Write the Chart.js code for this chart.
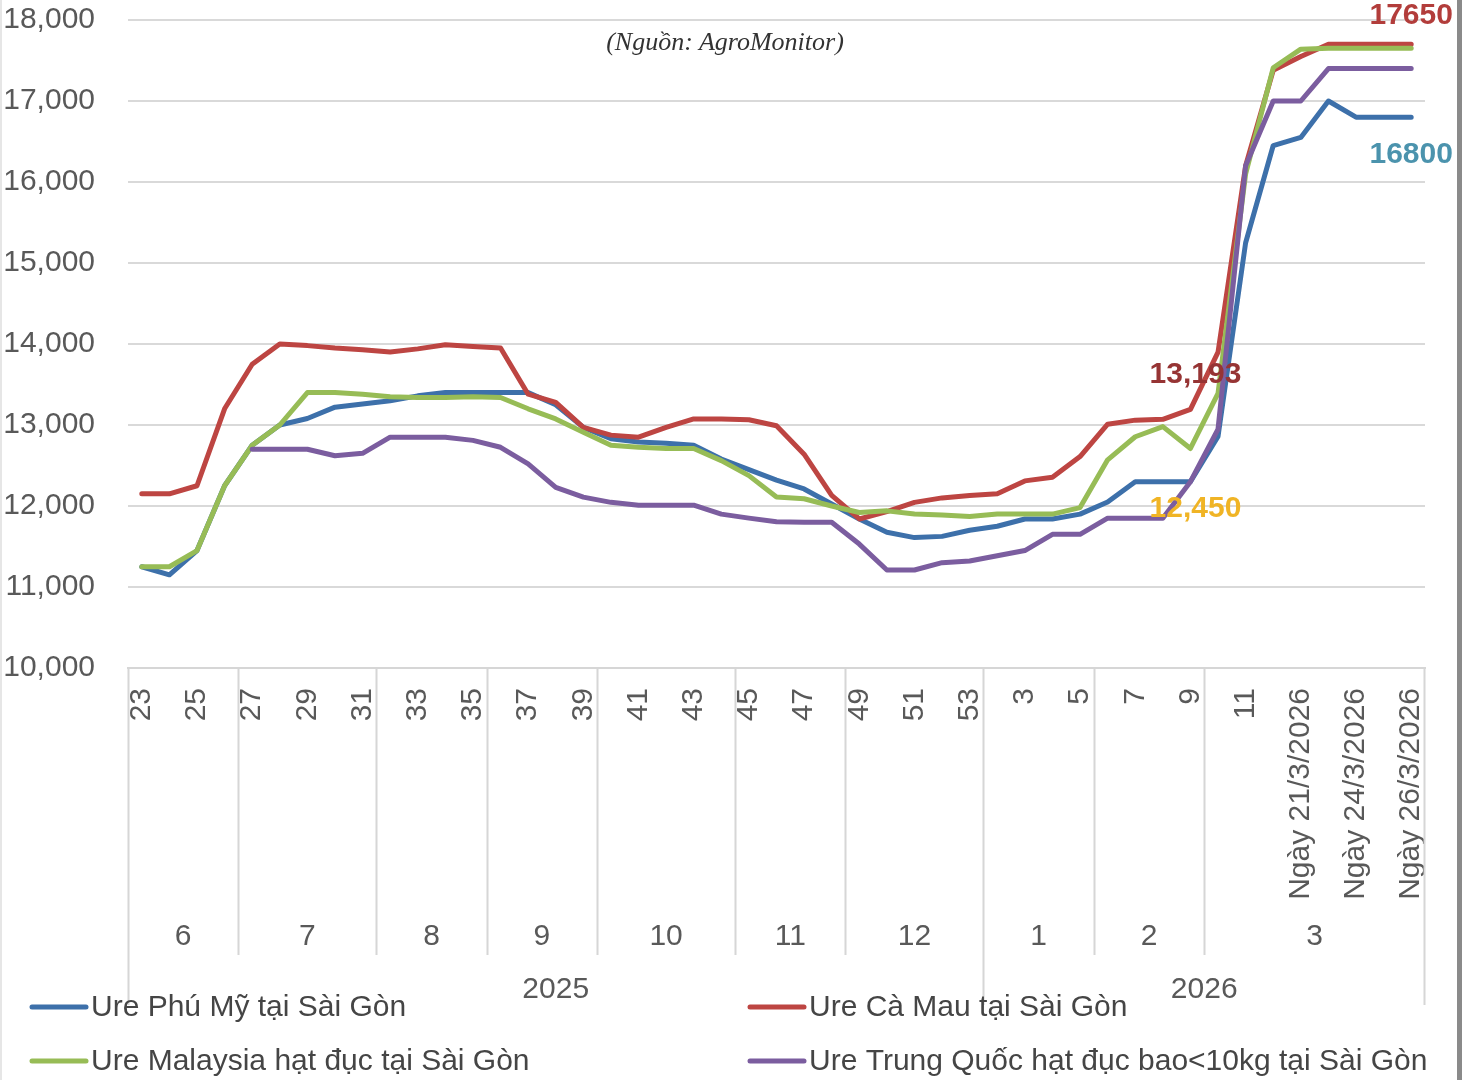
<!DOCTYPE html>
<html>
<head>
<meta charset="utf-8">
<script src="https://cdn.jsdelivr.net/npm/chart.js@4.4.1/dist/chart.umd.min.js"></script>
<style>
html,body{margin:0;padding:0;background:#fff;}
#wrap{position:relative;width:1471px;height:1080px;overflow:hidden;background:#fff;}
#c{position:absolute;left:0;top:0;}
#sub{position:absolute;top:27px;left:0;width:1450px;text-align:center;font:italic 26px "Liberation Serif","DejaVu Serif",serif;line-height:30px;color:#333;}
#edge{position:absolute;left:1457px;top:0;width:5px;height:1080px;background:#8a8a8a;}
#ledge{position:absolute;left:0;top:0;width:2px;height:1080px;background:#e6e6e6;}
</style>
</head>
<body>
<div id="wrap">
  <canvas id="c" width="1471" height="1080"></canvas>
  <div id="sub">(Nguồn: AgroMonitor)</div>
  <div id="edge"></div>
  <div id="ledge"></div>
</div>
<script>
// ---- categories (weeks / dates) ----
const categories = ['23','24','25','26','27','28','29','30','31','32','33','34','35','36','37','38','39','40','41','42','43','44','45','46','47','48','49','50','51','52','53',
  '2','3','4','5','6','7','8','9','10','11',
  'Ngày 20/3/2026','Ngày 21/3/2026','Ngày 23/3/2026','Ngày 24/3/2026','Ngày 25/3/2026','Ngày 26/3/2026'];
const monthLabels = ['6','7','8','9','10','11','12','1','2','3'];
const monthSizes  = [4,5,4,4,5,4,5,4,4,8];
const yearLabels  = ['2025','2026'];
const yearSizes   = [31,16];

// ---- series (đ/kg) ----
const phuMy = [11250,11150,11450,12250,12750,13000,13080,13220,13260,13300,
  13360,13400,13400,13400,13400,13250,12970,12830,12790,12775,
  12750,12580,12450,12320,12210,12025,11840,11675,11610,11625,
  11700,11750,11840,11840,11900,12050,12300,12300,12300,12860,
  15250,16450,16550,17000,16800,16800,16800];
const caMau = [12150,12150,12250,13200,13750,14000,13980,13950,13930,13900,
  13940,13990,13970,13950,13380,13280,12970,12875,12850,12970,
  13075,13075,13065,12990,12640,12130,11840,11930,12045,12100,
  12130,12150,12310,12355,12610,13010,13060,13070,13193,13900,
  16200,17380,17550,17700,17700,17700,17700];
const malaysia = [11250,11250,11450,12250,12750,13000,13400,13400,13380,13350,
  13340,13340,13350,13340,13200,13075,12910,12750,12725,12710,
  12710,12560,12375,12110,12090,12000,11920,11940,11900,11890,
  11870,11900,11900,11900,11980,12570,12855,12980,12710,13390,
  16100,17410,17640,17650,17650,17650,17650];
const trungQuoc = [null,null,null,null,12700,12700,12700,12620,12650,12850,
  12850,12850,12810,12725,12520,12230,12110,12045,12010,12010,
  12010,11900,11850,11805,11800,11800,11530,11210,11210,11300,
  11320,11385,11450,11650,11650,11850,11850,11850,12300,12950,
  16200,17000,17000,17400,17400,17400,17400];

const seriesNames = ['Ure Phú Mỹ tại Sài Gòn','Ure Cà Mau tại Sài Gòn','Ure Malaysia hạt đục tại Sài Gòn','Ure Trung Quốc hạt đục bao<10kg tại Sài Gòn'];
const seriesColors = ['#3d70aa','#bd4542','#97bc56','#7b5d9f'];

// value callouts: [datasetIndex, pointIndex, text]
const callouts = [[1,46,'17650'],[0,46,'16800'],[1,38,'13,193'],[3,38,'12,450']];
const calloutStyle = [{color:'#b23d3b',dx:0,dy:-29},{color:'#4b93ad',dx:0,dy:38},{color:'#963434',dx:5,dy:-35},{color:'#f0b425',dx:5,dy:27}];

const FONT = '"Liberation Sans", Arial, Helvetica, sans-serif';
const TXT = '#595959';

const fmt = v => String(v).replace(/\B(?=(\d{3})+(?!\d))/g, ',');

const groupPlugin = {
  id: 'groups',
  afterDraw(chart) {
    const ctx = chart.ctx, xs = chart.scales.x, area = chart.chartArea;
    const p = i => xs.getPixelForValue(i);
    const half = (p(1) - p(0)) / 2;
    const edge = i => p(i) - half;
    const b = area.bottom;
    ctx.save();
    ctx.strokeStyle = '#d6d6d6';
    ctx.lineWidth = 2;
    let idx = 0;
    ctx.font = '30px ' + FONT;
    ctx.fillStyle = TXT;
    ctx.textAlign = 'center';
    ctx.textBaseline = 'middle';
    const yearStarts = [0];
    let yi = 0; yearSizes.forEach(s => { yi += s; yearStarts.push(yi); });
    // month separators and labels
    monthSizes.forEach((s, k) => {
      const x0 = edge(idx), x1 = edge(idx + s);
      if (!yearStarts.includes(idx)) {
        ctx.beginPath(); ctx.moveTo(Math.round(x0) + 0.5, b); ctx.lineTo(Math.round(x0) + 0.5, b + 287); ctx.stroke();
      }
      ctx.fillText(monthLabels[k], (x0 + x1) / 2, b + 269);
      idx += s;
    });
    // year separators and labels
    idx = 0;
    yearSizes.forEach((s, k) => {
      const x0 = edge(idx), x1 = edge(idx + s);
      ctx.beginPath(); ctx.moveTo(Math.round(x0) + 0.5, b); ctx.lineTo(Math.round(x0) + 0.5, b + 337); ctx.stroke();
      ctx.fillText(yearLabels[k], (x0 + x1) / 2, b + 322);
      idx += s;
    });
    const xEnd = edge(categories.length);
    ctx.beginPath(); ctx.moveTo(Math.round(xEnd) - 0.5, b); ctx.lineTo(Math.round(xEnd) - 0.5, b + 337); ctx.stroke();

    // legend (2 columns x 2 rows)
    const colX = [30, 748];
    const rowY = [b + 339, b + 393];
    ctx.textAlign = 'left';
    ctx.font = '30px ' + FONT;
    seriesNames.forEach((name, k) => {
      const cx = colX[k % 2], cy = rowY[Math.floor(k / 2)];
      ctx.strokeStyle = seriesColors[k];
      ctx.lineWidth = 5;
      ctx.lineCap = 'round';
      ctx.beginPath(); ctx.moveTo(cx + 2, cy); ctx.lineTo(cx + 56, cy); ctx.stroke();
      ctx.fillStyle = '#454545';
      ctx.fillText(name, cx + 61, cy + 1);
    });

    // callouts
    ctx.font = 'bold 30px ' + FONT;
    ctx.textAlign = 'center';
    callouts.forEach((c, k) => {
      const pt = chart.getDatasetMeta(c[0]).data[c[1]];
      const st = calloutStyle[k];
      ctx.fillStyle = st.color;
      ctx.fillText(c[2], pt.x + st.dx, pt.y + st.dy);
    });
    ctx.restore();
  }
};

const mk = (label, data, k, order) => ({
  label, data, borderColor: seriesColors[k], backgroundColor: seriesColors[k],
  borderWidth: 5, pointRadius: 0, tension: 0, order, spanGaps: false,
  borderJoinStyle: 'round', borderCapStyle: 'round'
});

new Chart(document.getElementById('c'), {
  type: 'line',
  data: {
    labels: categories,
    datasets: [
      mk(seriesNames[0], phuMy, 0, 4),
      mk(seriesNames[1], caMau, 1, 3),
      mk(seriesNames[2], malaysia, 2, 2),
      mk(seriesNames[3], trungQuoc, 3, 1)
    ]
  },
  options: {
    responsive: false,
    animation: false,
    devicePixelRatio: 1,
    layout: { padding: { top: 20, right: 46, bottom: 0, left: 0 } },
    plugins: { legend: { display: false }, tooltip: { enabled: false }, title: { display: false } },
    scales: {
      x: {
        offset: true,
        grid: { display: false, drawTicks: false },
        border: { display: true, color: '#d6d6d6', width: 2 },
        ticks: {
          autoSkip: false, maxRotation: 90, minRotation: 90, padding: 20,
          color: TXT, font: { size: 30, family: FONT },
          callback: (v, i) => (i % 2 === 0 ? categories[i] : '')
        },
        afterFit(s) { s.height = 412; s.paddingLeft = 0; s.paddingRight = 0; }
      },
      y: {
        min: 10000, max: 18000,
        grid: { color: '#d9d9d9', lineWidth: 2, drawTicks: false },
        border: { display: false },
        ticks: {
          stepSize: 1000, padding: 33, color: TXT, font: { size: 30, family: FONT },
          callback: v => fmt(v)
        },
        afterFit(s) { s.width = 128; s.paddingTop = 0; s.paddingBottom = 0; }
      }
    }
  },
  plugins: [groupPlugin]
});
</script>
</body>
</html>
